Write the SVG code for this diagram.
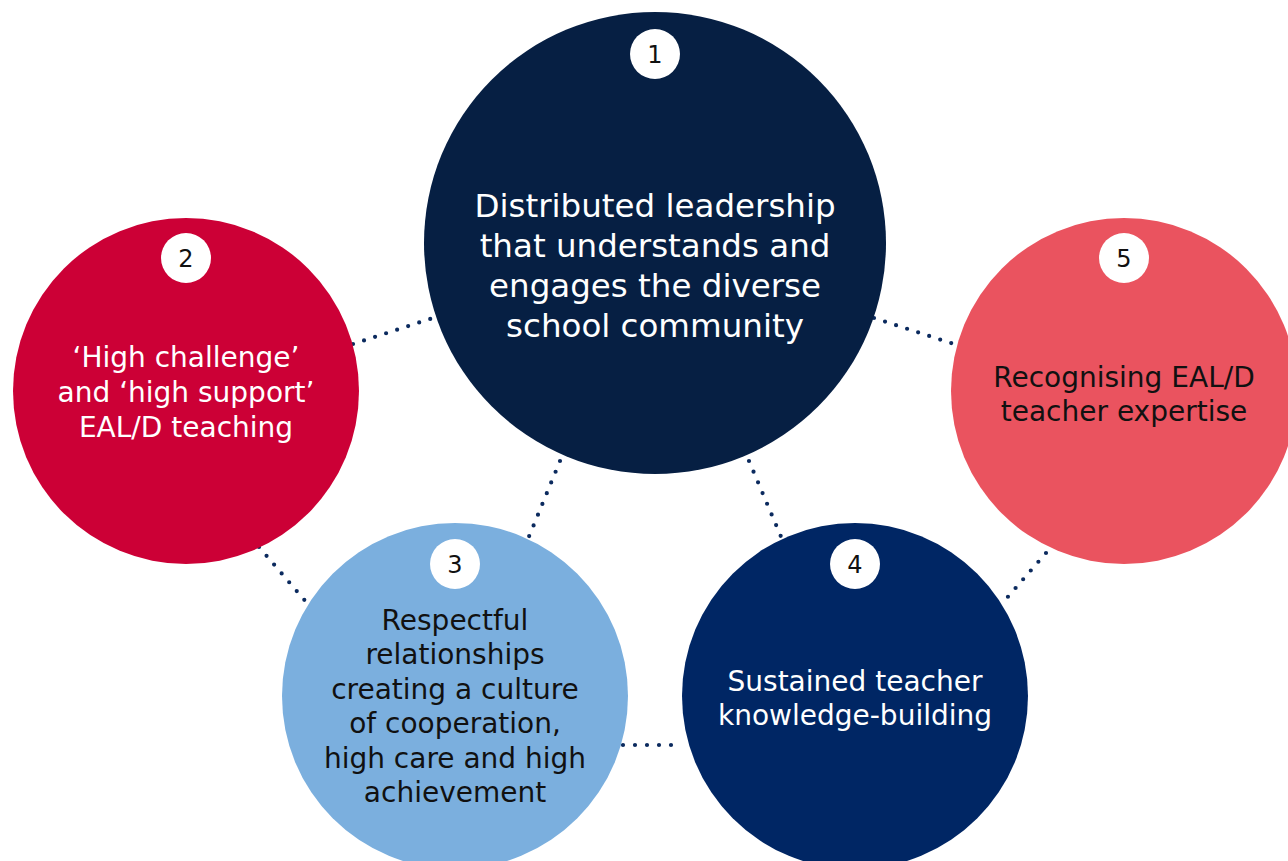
<svg xmlns="http://www.w3.org/2000/svg" width="1288" height="861" viewBox="0 0 1288 861">
  <style>
    .lbl { font-family: "DejaVu Sans", "Noto Sans", sans-serif; text-anchor: middle; }
    .big { font-size: 32.5px; fill: #ffffff; }
    .mid { font-size: 28px; }
    .w { fill: #ffffff; }
    .k { fill: #111111; }
    .badge { fill: #ffffff; }
    .num { font-family: "DejaVu Sans", "Noto Sans", sans-serif; font-size: 24px; fill: #111111; text-anchor: middle; }
    .dots { stroke: #0B2A5E; stroke-width: 4.2; stroke-linecap: round; stroke-dasharray: 0 11.6; fill: none; }
  </style>
  <rect width="1288" height="861" fill="#ffffff"/>

  <g id="connectors">
    <line class="dots" x1="353" y1="344" x2="436" y2="317"/>
    <line class="dots" x1="874" y1="318" x2="957" y2="345"/>
    <line class="dots" x1="560" y1="461" x2="528" y2="539"/>
    <line class="dots" x1="749" y1="461" x2="782" y2="539"/>
    <line class="dots" x1="259" y1="547" x2="307" y2="603"/>
    <line class="dots" x1="1046" y1="553" x2="1006" y2="599"/>
    <line class="dots" x1="623" y1="745" x2="683" y2="745" style="stroke-dasharray: 0 12"/>
  </g>

  <g id="node1">
    <circle cx="655" cy="243" r="231" fill="#061F43"/>
    <circle class="badge" cx="655" cy="54" r="25"/>
    <text class="num" x="655" y="63">1</text>
    <text class="lbl big" x="655" y="217">Distributed leadership</text>
    <text class="lbl big" x="655" y="257">that understands and</text>
    <text class="lbl big" x="655" y="297">engages the diverse</text>
    <text class="lbl big" x="655" y="337">school community</text>
  </g>

  <g id="node2">
    <circle cx="186" cy="391" r="173" fill="#CC0036"/>
    <circle class="badge" cx="186" cy="258" r="25"/>
    <text class="num" x="186" y="267">2</text>
    <text class="lbl mid w" x="186" y="367">‘High challenge’</text>
    <text class="lbl mid w" x="186" y="402">and ‘high support’</text>
    <text class="lbl mid w" x="186" y="437">EAL/D teaching</text>
  </g>

  <g id="node3">
    <circle cx="455" cy="696" r="173" fill="#7BAFDE"/>
    <circle class="badge" cx="455" cy="564" r="25"/>
    <text class="num" x="455" y="573">3</text>
    <text class="lbl mid k" x="455" y="630">Respectful</text>
    <text class="lbl mid k" x="455" y="664">relationships</text>
    <text class="lbl mid k" x="455" y="699">creating a culture</text>
    <text class="lbl mid k" x="455" y="733">of cooperation,</text>
    <text class="lbl mid k" x="455" y="768">high care and high</text>
    <text class="lbl mid k" x="455" y="802">achievement</text>
  </g>

  <g id="node4">
    <circle cx="855" cy="696" r="173" fill="#002664"/>
    <circle class="badge" cx="855" cy="564" r="25"/>
    <text class="num" x="855" y="573">4</text>
    <text class="lbl mid w" x="855" y="691">Sustained teacher</text>
    <text class="lbl mid w" x="855" y="725">knowledge-building</text>
  </g>

  <g id="node5">
    <circle cx="1124" cy="391" r="173" fill="#EA535F"/>
    <circle class="badge" cx="1124" cy="258" r="25"/>
    <text class="num" x="1124" y="267">5</text>
    <text class="lbl mid k" x="1124" y="387">Recognising EAL/D</text>
    <text class="lbl mid k" x="1124" y="421">teacher expertise</text>
  </g>
</svg>
